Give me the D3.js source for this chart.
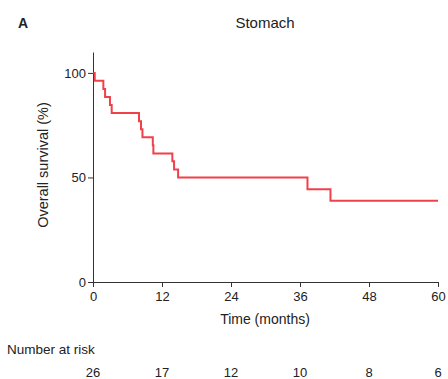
<!DOCTYPE html>
<html><head><meta charset="utf-8">
<script src="https://cdn.jsdelivr.net/npm/d3@7"></script>
<style>body{margin:0;background:#fff}svg{display:block;font-family:"Liberation Sans",Arial,sans-serif}</style>
</head><body><svg id="c" width="448" height="379"></svg>
<script>
const stepTimes =    [0, 0.3, 1.8, 2.1, 2.95, 3.25, 8.0, 8.35, 8.6, 10.4, 10.5, 13.8, 14.1, 14.8, 37.3, 41.3, 60];
const stepSurvival = [100, 96.2, 92.3, 88.5, 84.6, 80.8, 76.9, 73.1, 69.2, 65.4, 61.5, 57.7, 53.8, 50.0, 44.4, 38.9, 38.9];
const xTicks = [0, 12, 24, 36, 48, 60];
const yTicks = [0, 50, 100];
const riskTimes = [0, 12, 24, 36, 48, 60];
const riskCounts = [26, 17, 12, 10, 8, 6];
const title = "Stomach";
const panel = "A";

const svg = d3.select("#c");
const x = d3.scaleLinear().domain([0, 60]).range([93, 438]);
const y = d3.scaleLinear().domain([0, 110]).range([282, 52]);
const axisColor = "#333";

const xa = svg.append("g").attr("transform", "translate(0,282)")
  .call(d3.axisBottom(x).tickValues(xTicks).tickSize(5).tickSizeOuter(0));
const ya = svg.append("g").attr("transform", "translate(93,0)")
  .call(d3.axisLeft(y).tickValues(yTicks).tickSize(5).tickSizeOuter(0));
[xa, ya].forEach(g => {
  g.selectAll("path,line").attr("stroke", axisColor);
  g.selectAll("text").attr("fill", "#222").style("font-size", "13px")
   .style("font-family", '"Liberation Sans",Arial,sans-serif');
});
xa.selectAll("text").attr("dy", "0.85em");
ya.selectAll("text").attr("x", -7);

const line = d3.line().x((d, i) => x(stepTimes[i])).y(d => y(d)).curve(d3.curveStepAfter);
svg.append("path").datum(stepSurvival).attr("d", line)
  .attr("fill", "none").attr("stroke", "#ee2b36").attr("stroke-width", 2).attr("stroke-opacity", 0.9);

svg.append("text").attr("x", 265).attr("y", 28).attr("text-anchor", "middle")
  .style("font-size", "15px").attr("fill", "#222").text(title);
svg.append("text").attr("x", 18).attr("y", 28)
  .style("font-size", "14px").style("font-weight", "bold").attr("fill", "#222").text(panel);
svg.append("text").attr("x", 265).attr("y", 324).attr("text-anchor", "middle")
  .style("font-size", "14px").attr("fill", "#222").text("Time (months)");
svg.append("text").attr("transform", "translate(48,165) rotate(-90)").attr("text-anchor", "middle")
  .style("font-size", "14.5px").attr("fill", "#222").text("Overall survival (%)");
svg.append("text").attr("x", 7).attr("y", 354)
  .style("font-size", "13.5px").attr("fill", "#222").text("Number at risk");
svg.selectAll("text.risk").data(riskCounts).enter().append("text").attr("class", "risk")
  .attr("x", (d, i) => x(riskTimes[i])).attr("y", 377).attr("text-anchor", "middle")
  .style("font-size", "13px").attr("fill", "#222").text(d => d);
</script></body></html>
